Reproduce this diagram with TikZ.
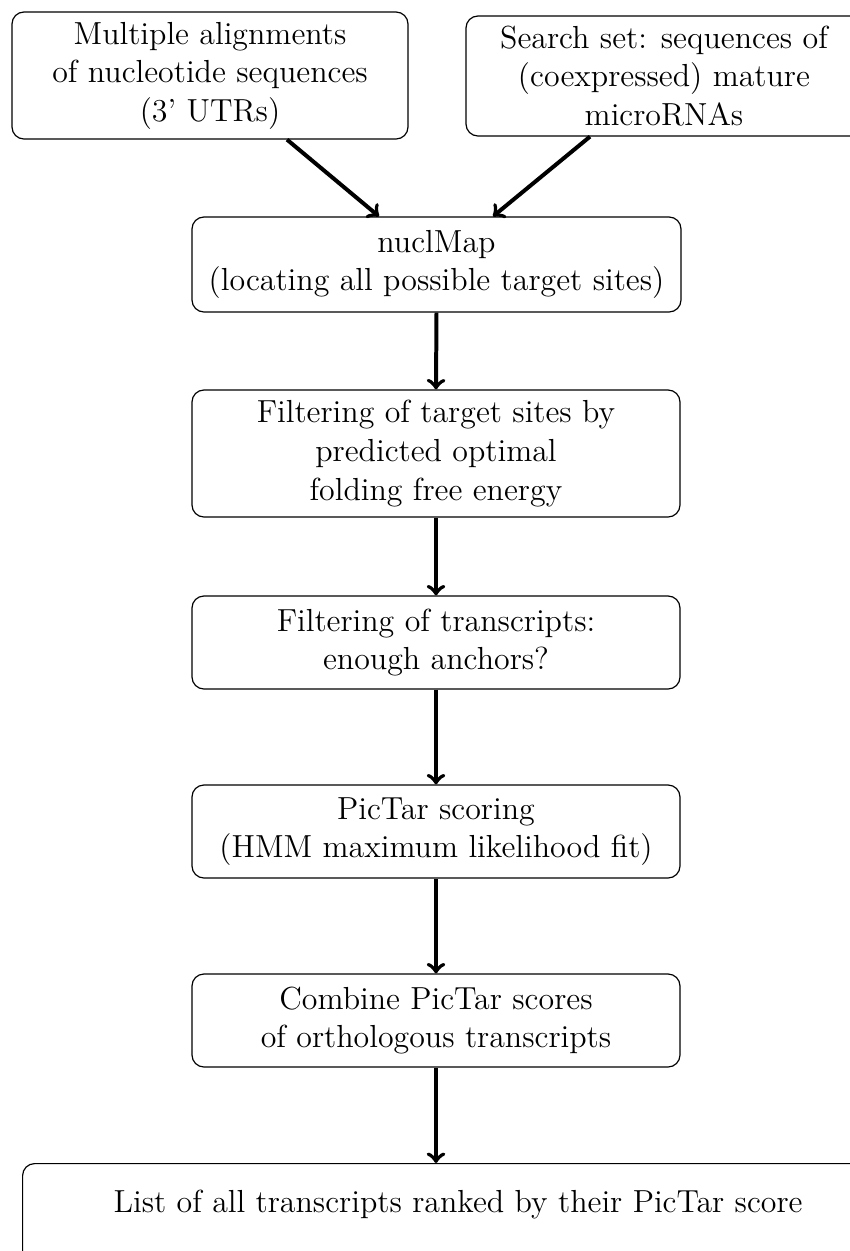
\documentclass[tikz,border=0pt,12pt]{standalone}
\usetikzlibrary{arrows}
\newlength\pxu
\setlength\pxu{0.376pt}
\begin{document}
\begin{tikzpicture}[x=\pxu,y=-\pxu,
  stepbox/.style={draw,line width=0.45pt,rounded corners=4.5pt,align=center,
    inner sep=0pt,minimum width=#1\pxu},
  flow/.style={->,line width=1.5pt}]
\useasboundingbox (0,0) rectangle (850,1251);

\node[stepbox=396,minimum height=127\pxu] (align) at (210,75.5)
  {Multiple alignments\\of nucleotide sequences\\(3' UTRs)};
\node[stepbox=396,minimum height=120\pxu] (search) at (664,76)
  {Search set: sequences of\\(coexpressed) mature\\microRNAs};
\node[stepbox=489,minimum height=95\pxu] (nucl) at (436.5,264.5)
  {nuclMap\\(locating all possible target sites)};
\node[stepbox=488,minimum height=127\pxu] (sites) at (436,453.5)
  {Filtering of target sites by\\predicted optimal\\folding free energy};
\node[stepbox=488,minimum height=93\pxu] (trans) at (436,642.5)
  {Filtering of transcripts:\\enough anchors?};
\node[stepbox=488,minimum height=93\pxu] (score) at (436,831.5)
  {PicTar scoring\\(HMM maximum likelihood fit)};
\node[stepbox=488,minimum height=93\pxu] (comb) at (436,1020.5)
  {Combine PicTar scores\\of orthologous transcripts};
\node[draw,line width=0.45pt,rounded corners=4.5pt,inner xsep=0pt,inner ysep=0pt,
  minimum width=871\pxu,text height=49\pxu,text depth=60\pxu,anchor=north west]
  (list) at (22,1163) {List of all transcripts ranked by their PicTar score};

\draw[flow] ([xshift=77\pxu]align.south) -- ([xshift=-57.5\pxu]nucl.north);
\draw[flow] ([xshift=-74\pxu]search.south) -- ([xshift=56.5\pxu]nucl.north);
\draw[flow] (nucl.south) -- (sites.north);
\draw[flow] (sites.south) -- (trans.north);
\draw[flow] (trans.south) -- (score.north);
\draw[flow] (score.south) -- (comb.north);
\draw[flow] (comb.south) -- (comb.south |- list.north);
\end{tikzpicture}
\end{document}
